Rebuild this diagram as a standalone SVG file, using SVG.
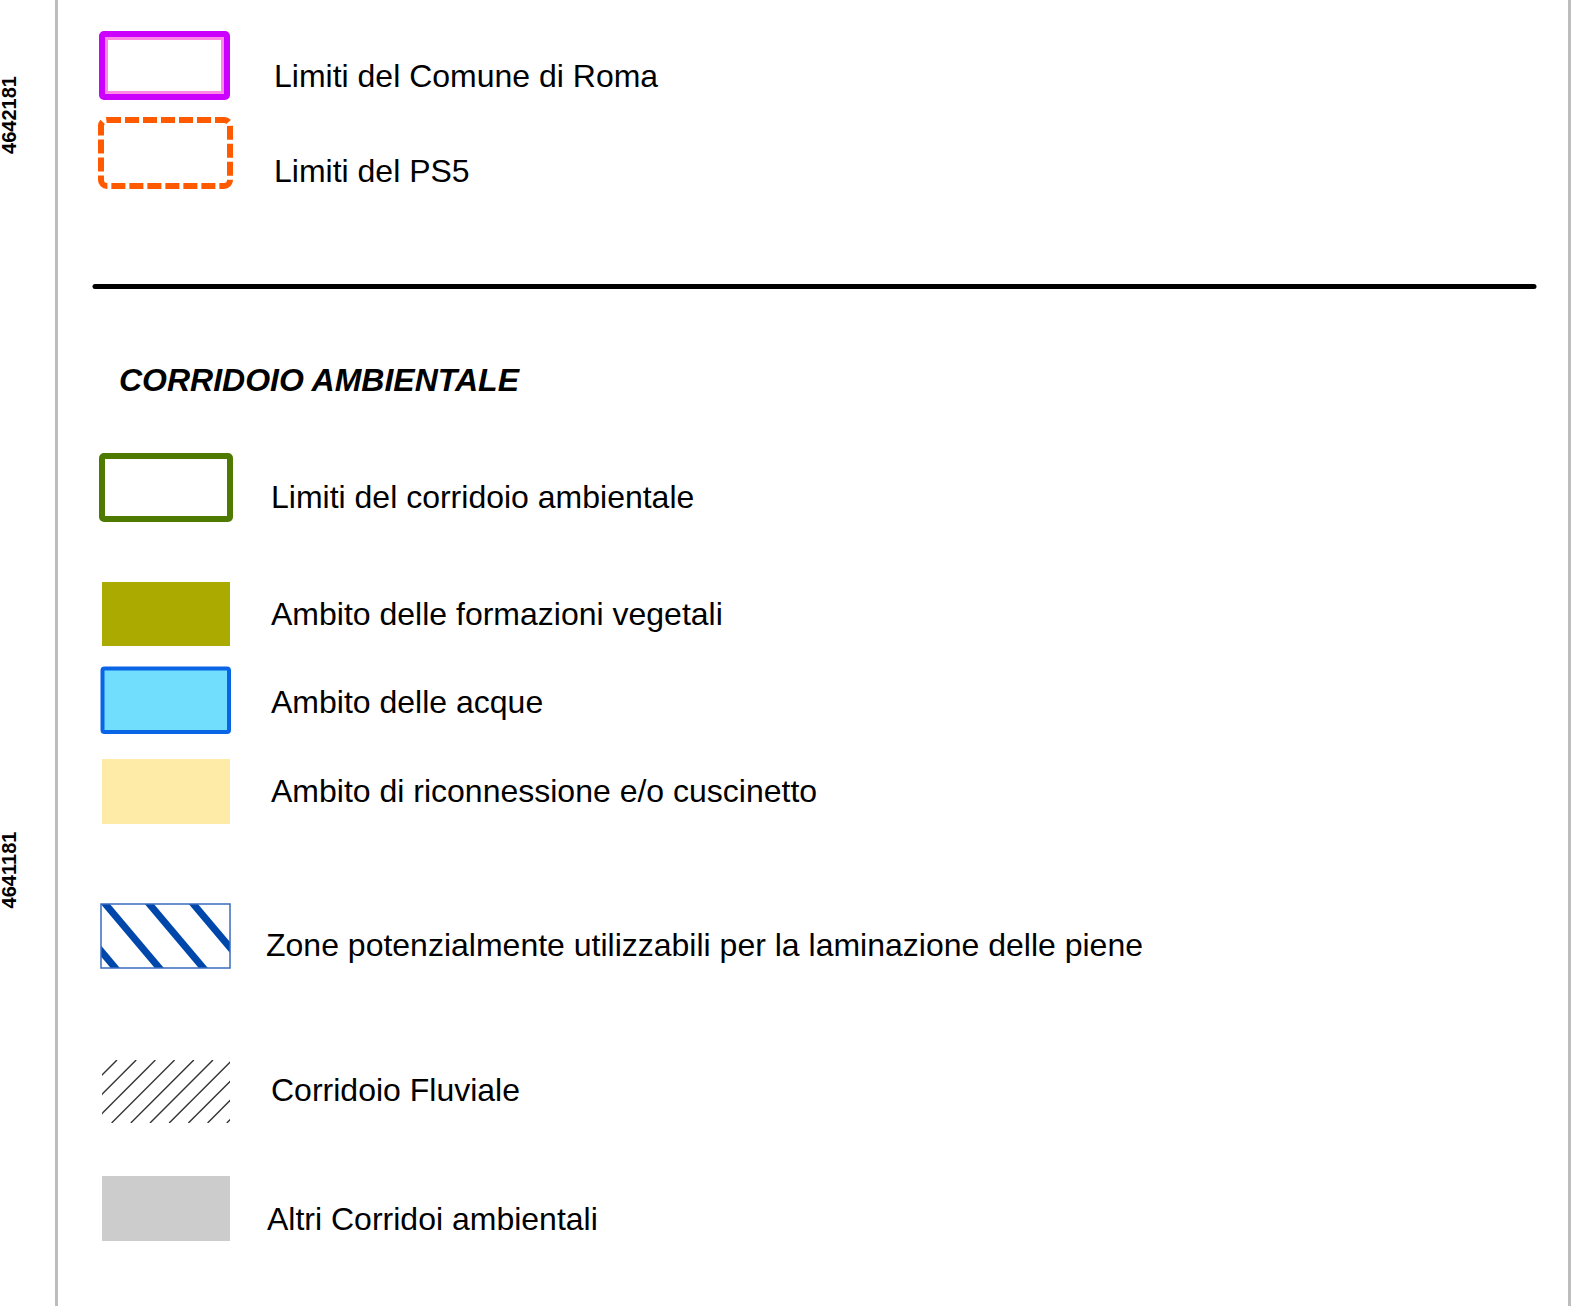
<svg xmlns="http://www.w3.org/2000/svg" width="1576" height="1306" viewBox="0 0 1576 1306">
<style>
.lbl{font-family:"Liberation Sans",Arial,Helvetica,sans-serif;font-size:32px;fill:#000}
.coord{font-family:"Liberation Sans",Arial,Helvetica,sans-serif;font-size:20px;font-weight:bold;fill:#000}
.frame{stroke:#bdbdbd;stroke-width:3;fill:none}
</style>
<defs>
<clipPath id="clipLam"><rect x="101" y="904" width="129" height="64"/></clipPath>
<clipPath id="clipFlu"><rect x="102" y="1060" width="128" height="63"/></clipPath>
</defs>
<rect x="0" y="0" width="1576" height="1306" fill="#fff"/>
<g id="frame">
<line class="frame" x1="56.5" y1="0" x2="56.5" y2="1306"/>
<line class="frame" x1="1569.5" y1="0" x2="1569.5" y2="1306"/>
<text class="coord" transform="translate(16,115) rotate(-90)" text-anchor="middle">4642181</text>
<text class="coord" transform="translate(16,870) rotate(-90)" text-anchor="middle">4641181</text>
</g>
<g id="comune-roma">
<rect x="102" y="34" width="125" height="63" rx="2" fill="#fff" stroke="#cc00ff" stroke-width="6"/>
<rect x="106.5" y="38.5" width="116" height="54" fill="none" stroke="#ff88e6" stroke-width="3"/>
<text class="lbl" x="274" y="87">Limiti del Comune di Roma</text>
</g>
<g id="ps5">
<rect x="101" y="120" width="129" height="66" rx="6" fill="none" stroke="#ff5a00" stroke-width="6" stroke-dasharray="14 4"/>
<text class="lbl" x="274" y="182">Limiti del PS5</text>
</g>
<g id="separator">
<line x1="95" y1="286.5" x2="1534" y2="286.5" stroke="#000" stroke-width="5" stroke-linecap="round"/>
</g>
<g id="title">
<text class="lbl" x="119" y="391" font-weight="bold" font-style="italic">CORRIDOIO AMBIENTALE</text>
</g>
<g id="limiti-corridoio">
<rect x="102" y="456" width="128" height="63" rx="2" fill="#fff" stroke="#4f7a00" stroke-width="6"/>
<text class="lbl" x="271" y="508">Limiti del corridoio ambientale</text>
</g>
<g id="formazioni-vegetali">
<rect x="102" y="582" width="128" height="64" fill="#aaaa00"/>
<text class="lbl" x="271" y="625">Ambito delle formazioni vegetali</text>
</g>
<g id="acque">
<rect x="102.5" y="668.5" width="126.5" height="63.5" rx="2" fill="#70defc" stroke="#0a64e6" stroke-width="4"/>
<text class="lbl" x="271" y="713">Ambito delle acque</text>
</g>
<g id="riconnessione">
<rect x="102" y="759" width="128" height="65" fill="#ffeba8"/>
<text class="lbl" x="271" y="802">Ambito di riconnessione e/o cuscinetto</text>
</g>
<g id="laminazione">
<rect x="101" y="904" width="129" height="64" fill="#fff"/>
<g clip-path="url(#clipLam)" stroke="#0047ab" stroke-width="7">
<line x1="36" y1="874" x2="144" y2="1002"/>
<line x1="80" y1="874" x2="188" y2="1002"/>
<line x1="124" y1="874" x2="232" y2="1002"/>
<line x1="168" y1="874" x2="276" y2="1002"/>
</g>
<rect x="101" y="904" width="129" height="64" fill="none" stroke="#3a6bc0" stroke-width="1.5"/>
<text class="lbl" x="266" y="956">Zone potenzialmente utilizzabili per la laminazione delle piene</text>
</g>
<g id="fluviale">
<g clip-path="url(#clipFlu)" stroke="#333" stroke-width="1.4">
<line x1="54" y1="1123" x2="117" y2="1060"/>
<line x1="73.2" y1="1123" x2="136.2" y2="1060"/>
<line x1="92.4" y1="1123" x2="155.4" y2="1060"/>
<line x1="111.6" y1="1123" x2="174.6" y2="1060"/>
<line x1="130.8" y1="1123" x2="193.8" y2="1060"/>
<line x1="150" y1="1123" x2="213" y2="1060"/>
<line x1="169.2" y1="1123" x2="232.2" y2="1060"/>
<line x1="188.4" y1="1123" x2="251.4" y2="1060"/>
<line x1="207.6" y1="1123" x2="270.6" y2="1060"/>
<line x1="226.8" y1="1123" x2="289.8" y2="1060"/>
</g>
<text class="lbl" x="271" y="1101">Corridoio Fluviale</text>
</g>
<g id="altri-corridoi">
<rect x="102" y="1176" width="128" height="65" fill="#cccccc"/>
<text class="lbl" x="267" y="1230">Altri Corridoi ambientali</text>
</g>
</svg>
